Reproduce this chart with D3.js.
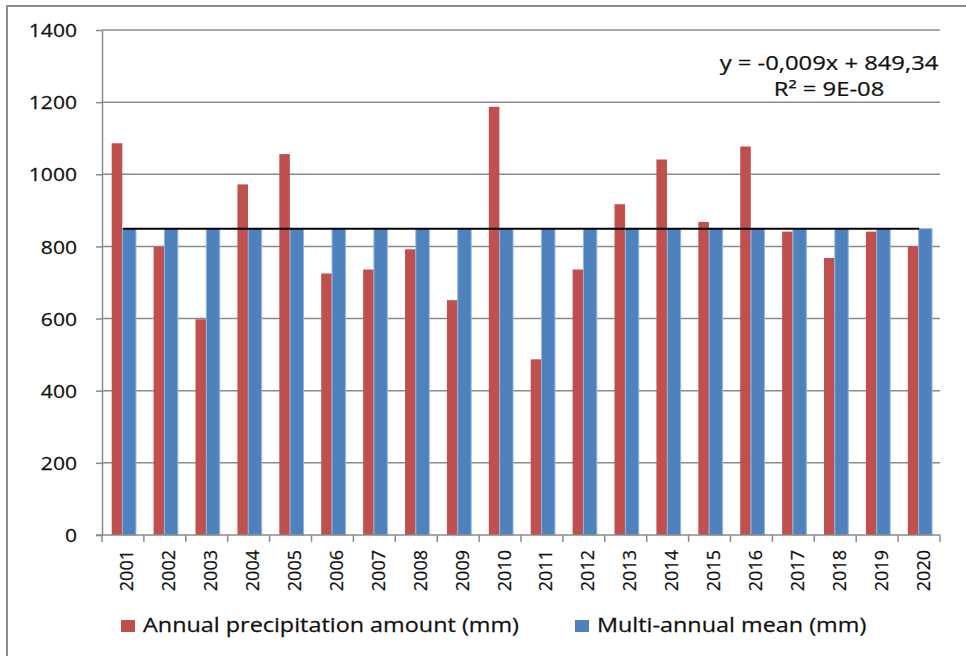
<!DOCTYPE html>
<html>
<head>
<meta charset="utf-8">
<script src="https://cdn.jsdelivr.net/npm/d3@7"></script>
<style>
  body { margin: 0; background: #fff; }
  text { font-family: "Open Sans", sans-serif; fill: #111; stroke: #111; stroke-width: 0.25; }
</style>
</head>
<body>
<script>
(function (d3) {
  'use strict';

  // data
  const years = ["2001","2002","2003","2004","2005","2006","2007","2008","2009","2010",
                 "2011","2012","2013","2014","2015","2016","2017","2018","2019","2020"];
  const annual = [1086, 799, 598, 972, 1056, 725, 736, 792, 651, 1187,
                  487, 736, 917, 1041, 868, 1077, 841, 768, 841, 801];
  const multiMean = [849.3, 849.3, 849.3, 849.3, 849.3, 849.3, 849.3, 849.3, 849.3, 849.3,
                     849.3, 849.3, 849.3, 849.3, 849.3, 849.3, 849.3, 849.3, 849.3, 849.3];
  const yTicks = [0, 200, 400, 600, 800, 1000, 1200, 1400];
  const trend = {slope: -0.009, intercept: 849.34};
  const trendLabel = ["y = -0,009x + 849,34", "R² = 9E-08"];
  const seriesNames = ["Annual precipitation amount (mm)", "Multi-annual mean (mm)"];

  const W = 966, H = 656;
  const margin = {top: 30, right: 26, bottom: 121, left: 102};
  const w = W - margin.left - margin.right,
        h = H - margin.top - margin.bottom;

  const svg = d3.select("body").append("svg")
      .attr("width", W)
      .attr("height", H);

  // outer frame (only top and left edges are visible in the crop)
  svg.append("path")
    .attr("d", `M7,${H} V6 H${W}`)
    .attr("fill", "none")
    .attr("stroke", "#8c8c8c")
    .attr("stroke-width", 2);

  const g = svg.append("g")
    .attr("transform", `translate(${margin.left},${margin.top})`);

  const x = d3.scaleBand()
    .domain(years)
    .range([0, w]);

  const y = d3.scaleLinear()
    .domain([0, 1400])
    .range([h, 0]);

  // grid lines
  g.append("g")
    .selectAll("line")
    .data(yTicks.slice(1))
    .join("line")
      .attr("x1", 0)
      .attr("x2", w)
      .attr("y1", d => y(d))
      .attr("y2", d => y(d))
      .attr("stroke", "#8a8a8a")
      .attr("stroke-width", 1.5);

  // y axis
  const yAxis = g.append("g")
    .call(d3.axisLeft(y).tickValues(yTicks).tickSize(6).tickSizeOuter(0).tickPadding(0));
  yAxis.select(".domain").attr("stroke", "#8a8a8a").attr("stroke-width", 1.5);
  yAxis.selectAll(".tick line").attr("stroke", "#8a8a8a").attr("stroke-width", 1.5);
  yAxis.selectAll(".tick text").remove();
  yAxis.selectAll(".tick")
    .append("text")
      .attr("transform", "translate(-25,0) scale(1.14,1)")
      .attr("text-anchor", "end")
      .attr("dy", "0.36em")
      .attr("font-size", 18.5)
      .text(d => d);

  // bars
  const bw = x.bandwidth();
  g.append("g")
    .selectAll("rect")
    .data(annual)
    .join("rect")
      .attr("x", (d, i) => x(years[i]) + bw * 0.232)
      .attr("y", d => y(d))
      .attr("width", bw * 0.252)
      .attr("height", d => h - y(d))
      .attr("fill", "#c0504d");

  g.append("g")
    .selectAll("rect")
    .data(multiMean)
    .join("rect")
      .attr("x", (d, i) => x(years[i]) + bw * 0.49)
      .attr("y", d => y(d))
      .attr("width", bw * 0.32)
      .attr("height", d => h - y(d))
      .attr("fill", "#4f81bd")
      .attr("stroke", "#8db4e2")
      .attr("stroke-width", 1);

  // x axis
  const xAxis = g.append("g")
    .attr("transform", `translate(0,${h})`)
    .call(d3.axisBottom(x).tickSize(0).tickFormat(""));
  xAxis.select(".domain").remove();
  xAxis.append("line")
    .attr("x1", -6).attr("x2", w)
    .attr("stroke", "#8a8a8a").attr("stroke-width", 1.5);
  xAxis.selectAll(".sep")
    .data(years.concat(["end"]))
    .join("line")
      .attr("class", "sep")
      .attr("x1", (d, i) => i < years.length ? x(d) : w)
      .attr("x2", (d, i) => i < years.length ? x(d) : w)
      .attr("y1", 0)
      .attr("y2", 7)
      .attr("stroke", "#8a8a8a")
      .attr("stroke-width", 1.5);
  xAxis.selectAll(".tick")
    .append("text")
      .attr("transform", "translate(4,15) rotate(-90)")
      .attr("text-anchor", "end")
      .attr("dy", "0.36em")
      .attr("font-size", 18)
      .text(d => d);

  // linear trend of the annual series
  const x0 = x(years[0]) + bw / 2,
        x1 = x(years[years.length - 1]) + bw / 2;
  g.append("line")
    .attr("x1", x0)
    .attr("x2", x1)
    .attr("y1", y(trend.intercept + trend.slope * 1))
    .attr("y2", y(trend.intercept + trend.slope * years.length))
    .attr("stroke", "#000")
    .attr("stroke-width", 2);

  svg.selectAll(".eq")
    .data(trendLabel)
    .join("text")
      .attr("class", "eq")
      .attr("transform", (d, i) => `translate(829,${70 + i * 26}) scale(1.22,1)`)
      .attr("text-anchor", "middle")
      .attr("font-size", 19.5)
      .text(d => d);

  // legend
  const colors = ["#c0504d", "#4f81bd"];
  const legX = [121, 575];
  const leg = svg.selectAll(".leg")
    .data(seriesNames)
    .join("g")
      .attr("class", "leg")
      .attr("transform", (d, i) => `translate(${legX[i]},620)`);
  leg.append("rect")
    .attr("width", 14)
    .attr("height", 12)
    .attr("fill", (d, i) => colors[i]);
  leg.append("text")
    .attr("transform", "translate(22,12) scale(1.17,1)")
    .attr("font-size", 20)
    .text(d => d);

}(d3));
</script>
</body>
</html>
